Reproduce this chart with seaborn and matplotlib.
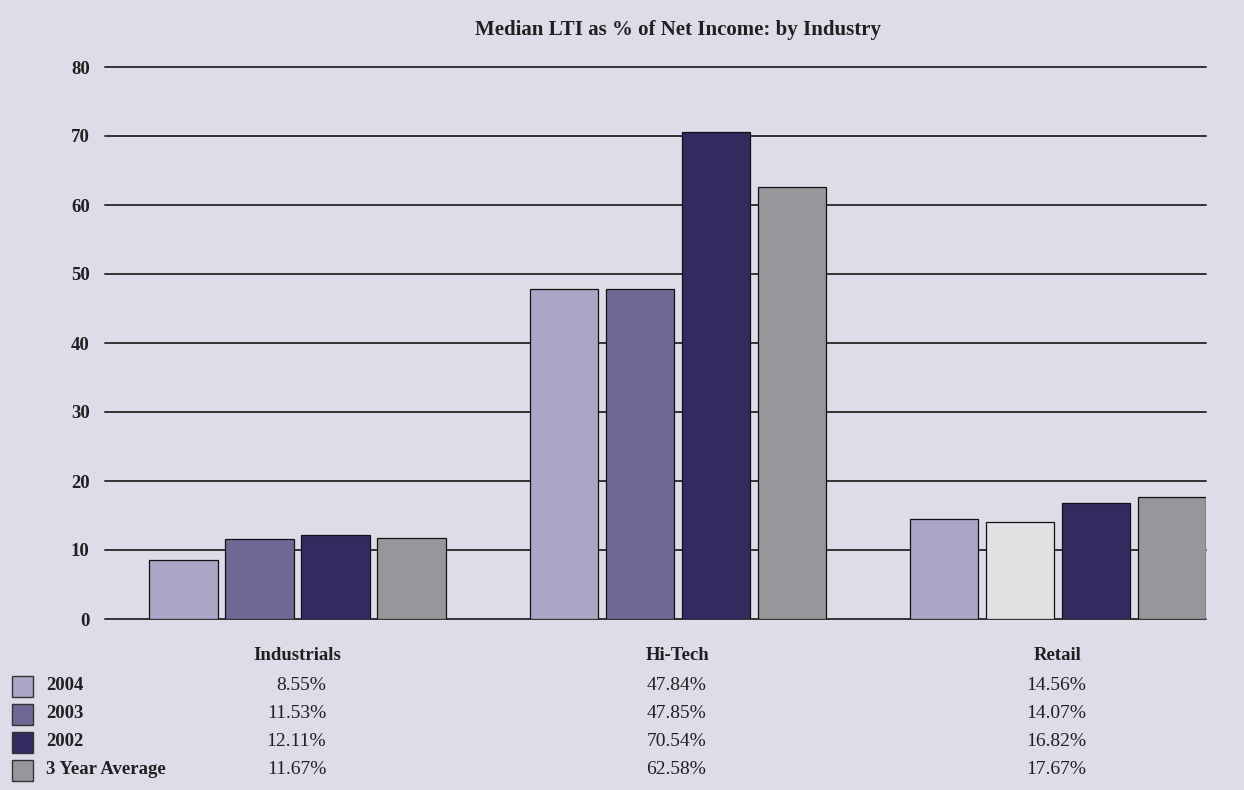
import matplotlib
matplotlib.use("Agg")
import matplotlib.pyplot as plt
import matplotlib.transforms as mtransforms
from matplotlib.patches import Rectangle
import seaborn as sns
import pandas as pd

industries = ["Industrials", "Hi-Tech", "Retail"]
series = ["2004", "2003", "2002", "3 Year Average"]
v2004 = [8.55, 47.84, 14.56]
v2003 = [11.53, 47.85, 14.07]
v2002 = [12.11, 70.54, 16.82]
vavg = [11.67, 62.58, 17.67]
yticks = [0, 10, 20, 30, 40, 50, 60, 70, 80]
title = "Median LTI as % of Net Income: by Industry"

colors = ["#aaa7c6", "#6f6894", "#332a60", "#96979a"]
retail_2003_color = "#e1e2e4"
bg = "#dfdcea"
txt = "#231f20"

values = {"2004": v2004, "2003": v2003, "2002": v2002, "3 Year Average": vavg}
rows = []
for s in series:
    for ind, v in zip(industries, values[s]):
        rows.append({"industry": ind, "series": s, "value": v})
df = pd.DataFrame(rows)

sns.set_theme(style="white")
plt.rcParams["font.family"] = ["Liberation Serif", "DejaVu Serif"]

fig = plt.figure(figsize=(12.44, 7.9), dpi=100, facecolor=bg)
ax = fig.add_axes([105/1244, 1-619/790, (1206-105)/1244, (619-67)/790])
ax.set_facecolor(bg)

sns.barplot(data=df, x="industry", y="value", hue="series", order=industries,
            hue_order=series, palette=colors, saturation=1, width=0.8, gap=0.1,
            edgecolor="#111111", linewidth=0.9, legend=False, ax=ax, zorder=3)

# Retail 2003 bar drawn in light grey in the original
ax.containers[1][2].set_facecolor(retail_2003_color)

ax.set_ylim(0, 80)
ax.set_xlim(-0.507, 2.39)
ax.set_yticks(yticks)
ax.set_yticklabels([str(t) for t in yticks], fontsize=13.5, fontweight="bold", color=txt)
ax.tick_params(axis="y", length=0, pad=11)
ax.set_xticks([])
ax.set_xlabel("")
ax.set_ylabel("")
for s in ax.spines.values():
    s.set_visible(False)
for t in yticks:
    ax.axhline(t, color="#333333", linewidth=1.4, zorder=1, clip_on=False)

trans = mtransforms.blended_transform_factory(ax.transData, fig.transFigure)
ax.text(1.0, 1-30/790, title, transform=trans,
        ha="center", va="center", fontsize=15, fontweight="bold", color=txt)

for i, ind in enumerate(industries):
    ax.text(i, 1-656/790, ind, transform=trans, ha="center", va="center",
            fontsize=13.5, fontweight="bold", color=txt)

row_y = [686, 714, 742, 770]
for r, s in enumerate(series):
    yf = 1 - row_y[r]/790
    fig.patches.append(Rectangle((12/1244, yf - 10.5/790), 21/1244, 21/790,
                                 transform=fig.transFigure, facecolor=colors[r],
                                 edgecolor="#333333", linewidth=1.0))
    fig.text(46/1244, yf, s, ha="left", va="center", fontsize=13.5,
             fontweight="bold", color=txt)
    for i, v in enumerate(values[s]):
        ax.text(i + 0.075, yf, f"{v:.2f}%", transform=trans, ha="right",
                va="center", fontsize=14, color=txt)

fig.savefig("out.png", dpi=100, facecolor=bg)
